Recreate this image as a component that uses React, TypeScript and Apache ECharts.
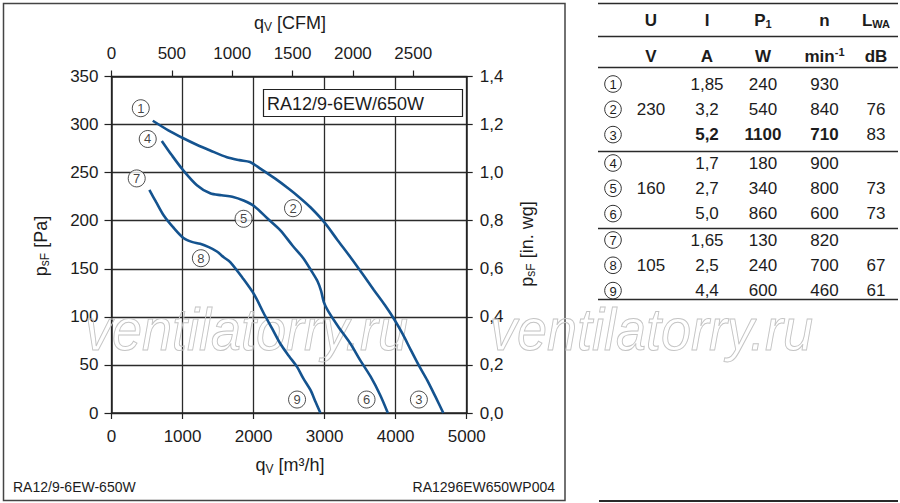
import React, { useEffect, useRef } from "react";
import * as echarts from "echarts";

const FONT = '"Liberation Sans", Arial, Helvetica, sans-serif';
const INK = "#1c1c1c";
const CURVE = "#14538f";

// ---------------- data ----------------
const M3H_PER_CFM = 1.699;
const flowMaxM3h = 5000;
const flowTicksCfm = [0, 500, 1000, 1500, 2000, 2500];
const pressureTicksInWg = [0, 0.2, 0.4, 0.6, 0.8, 1.0, 1.2, 1.4];

// curve 1-2-3 (230 V)
const curve230V: [number, number][] = [
  [581, 304], [800, 294], [1004, 286], [1200, 279], [1389, 273], [1625, 266],
  [1800, 263], [1950, 261], [2100, 254], [2300, 244], [2500, 233], [2650, 224],
  [2800, 214], [3000, 198], [3180, 180], [3364, 162], [3530, 145], [3693, 128],
  [3850, 112], [3975, 98], [4100, 82], [4210, 66], [4330, 49], [4445, 34],
  [4560, 17], [4671, 0],
];
// curve 4-5-6 (160 V)
const curve160V: [number, number][] = [
  [708, 283], [850, 268], [1004, 253], [1202, 237], [1389, 228.5], [1550, 226.5],
  [1700, 225], [1859, 221], [2010, 215], [2200, 202], [2377, 190], [2550, 174],
  [2700, 161], [2820, 147], [2900, 137], [2950, 127], [2990, 115], [3050, 106],
  [3200, 89], [3364, 72], [3500, 55], [3646, 38], [3780, 19], [3890, 0],
];
// curve 7-8-9 (105 V)
const curve105V: [number, number][] = [
  [533, 232], [631, 219], [731, 206], [870, 193], [1013, 182], [1130, 178],
  [1248, 176], [1370, 172.5], [1484, 168], [1580, 162], [1671, 157], [1850, 140],
  [2010, 123], [2141, 104], [2260, 88], [2377, 72], [2500, 59], [2612, 48],
  [2700, 36], [2800, 24], [2870, 12], [2941, 0],
];
const curveMarkNames = ["1", "2", "3", "4", "5", "6", "7", "8", "9"];
const curveMarkPoints: [number, number][] = [
  [412, 317], [2555, 213], [4327, 14],
  [510, 285], [1859, 202], [3590, 14],
  [355, 244], [1258, 161], [2612, 14],
];

const tableRowNames = ["1", "2", "3", "4", "5", "6", "7", "8", "9"];
const tableVoltage = ["", "230", "", "", "160", "", "", "105", ""];
const tableCurrent = ["1,85", "3,2", "5,2", "1,7", "2,7", "5,0", "1,65", "2,5", "4,4"];
const tablePower = ["240", "540", "1100", "180", "340", "860", "130", "240", "600"];
const tableSpeed = ["930", "840", "710", "900", "800", "600", "820", "700", "460"];
const tableLwa = ["", "76", "83", "", "73", "73", "", "67", "61"];
const tableBoldRow = [false, false, true, false, false, false, false, false, false];

const modelName = "RA12/9-6EW/650W";
const footLeft = "RA12/9-6EW-650W";
const footRight = "RA1296EW650WP004";
const watermark = "ventilatorry.ru";

// ---------------- helpers ----------------
const subRich = (size: number, bold = false) => ({
  n: { fontSize: size, fontFamily: FONT, fill: INK, fontWeight: bold ? "bold" : "normal" },
  s: { fontSize: Math.round(size * 0.66), fontFamily: FONT, fill: INK, fontWeight: bold ? "bold" : "normal", padding: [8, 0, 0, 0] },
  p: { fontSize: Math.round(size * 0.66), fontFamily: FONT, fill: INK, fontWeight: bold ? "bold" : "normal", padding: [0, 0, 8, 0] },
});

const txt = (text: string, x: number, y: number, size: number, align = "center", bold = false, extra: any = {}) => ({
  type: "text",
  x,
  y,
  z: 20,
  style: {
    text,
    fontSize: size,
    fontFamily: FONT,
    fontWeight: bold ? "bold" : "normal",
    fill: INK,
    align,
    textAlign: align,
    verticalAlign: "middle",
    textVerticalAlign: "middle",
    ...extra,
  },
});

const richTxt = (text: string, x: number, y: number, size: number, bold = false, rotation = 0, align = "center") => ({
  type: "text",
  x,
  y,
  rotation,
  z: 20,
  style: {
    text,
    rich: subRich(size, bold),
    align,
    textAlign: align,
    verticalAlign: "middle",
    textVerticalAlign: "middle",
  },
});

const hline = (x1: number, x2: number, y: number, w = 1.5) => ({
  type: "line",
  z: 20,
  shape: { x1, y1: y, x2, y2: y },
  style: { stroke: "#2a2a2a", lineWidth: w },
});

const circled = (label: string, cx: number, cy: number) => ({
  type: "group",
  z: 20,
  children: [
    { type: "circle", shape: { cx, cy, r: 8.3 }, style: { fill: "#fff", stroke: "#333", lineWidth: 1 }, z: 20 },
    txt(label, cx, cy + 0.5, 13),
  ],
});

function buildTable(): any[] {
  const els: any[] = [];
  const L = 598, R = 898;
  const cCirc = 613, cU = 651, cI = 707, cP = 763, cN = 824.5, cL = 876;
  [3.5, 36.5, 67.5, 151.5, 228.5, 299.5].forEach((y) => els.push(hline(L, R, y)));
  els.push(hline(599, 898, 501, 2));
  // header
  els.push(txt("U", cU, 20, 17, "center", true));
  els.push(txt("I", cI, 20, 17, "center", true));
  els.push(richTxt("{n|P}{s|1}", cP, 20, 17, true));
  els.push(txt("n", cN, 20, 17, "center", true));
  els.push(richTxt("{n|L}{s|WA}", cL, 20, 17, true));
  els.push(txt("V", cU, 56, 17, "center", true));
  els.push(txt("A", cI, 56, 17, "center", true));
  els.push(txt("W", cP, 56, 17, "center", true));
  els.push(richTxt("{n|min}{p|-1}", cN, 56, 17, true));
  els.push(txt("dB", cL, 56, 17, "center", true));
  const groupTop = [84, 163, 240];
  tableRowNames.forEach((name, i) => {
    const g = Math.floor(i / 3);
    const y = groupTop[g] + (i % 3) * 25.3;
    const b = tableBoldRow[i];
    els.push(circled(name, cCirc, y));
    if (tableVoltage[i]) els.push(txt(tableVoltage[i], cU, y, 17));
    els.push(txt(tableCurrent[i], cI, y, 17, "center", b));
    els.push(txt(tablePower[i], cP, y, 17, "center", b));
    els.push(txt(tableSpeed[i], cN, y, 17, "center", b));
    if (tableLwa[i]) els.push(txt(tableLwa[i], cL, y, 17));
  });
  return els;
}

const wmText = (x: number) => ({
  type: "text",
  x,
  y: 329,
  scaleX: 0.9,
  z: 1,
  silent: true,
  style: {
    text: watermark,
    fontSize: 60,
    fontFamily: FONT,
    fontStyle: "italic",
    fill: "rgba(255,255,255,0)",
    stroke: "#c4c4c4",
    lineWidth: 1,
    align: "left",
    textAlign: "left",
    verticalAlign: "middle",
    textVerticalAlign: "middle",
  },
});

const plain = (v: number) => String(Math.round(v));

export default function App() {
  const ref = useRef<HTMLDivElement>(null);

  useEffect(() => {
    document.body.style.margin = "0";
    const chart = echarts.init(ref.current!, null, { renderer: "svg" });
    const axisLine = { show: true, onZero: false, lineStyle: { color: "#222", width: 1.5 } };
    const tick = (len: number) => ({ show: true, inside: false, length: len, lineStyle: { color: "#222", width: 1.2 } });
    const lab = (margin: number, extra: any = {}) => ({
      fontSize: 17, color: INK, fontFamily: FONT, margin, ...extra,
    });
    const split = { show: true, lineStyle: { color: "#2b2b2b", width: 1.3 } };

    const lineSeries = (data: [number, number][]) => ({
      type: "line",
      data,
      xAxisIndex: 0,
      yAxisIndex: 0,
      showSymbol: false,
      symbol: "none",
      smooth: 0.3,
      silent: true,
      z: 3,
      lineStyle: { color: CURVE, width: 2.6 },
    });

    const option: any = {
      animation: false,
      textStyle: { fontFamily: FONT },
      grid: { left: 111.5, right: 433.3, top: 76.5, bottom: 90, containLabel: false },
      xAxis: [
        {
          type: "value", position: "bottom", min: 0, max: flowMaxM3h, interval: 1000,
          axisLine, axisTick: tick(6), axisLabel: lab(15, { formatter: plain }), splitLine: split,
        },
        {
          type: "value", position: "top", min: 0, max: flowMaxM3h / M3H_PER_CFM, interval: 500,
          axisLine,
          axisTick: { ...tick(6), customValues: flowTicksCfm },
          axisLabel: lab(15, { customValues: flowTicksCfm, formatter: plain }),
          splitLine: { show: false },
        },
      ],
      yAxis: [
        {
          type: "value", position: "left", min: 0, max: 350, interval: 50,
          axisLine, axisTick: tick(7), axisLabel: lab(13, { formatter: plain }), splitLine: split,
        },
        {
          type: "value", position: "right", min: 0, max: 1.4, interval: 0.2,
          axisLine,
          axisTick: { ...tick(6), customValues: pressureTicksInWg },
          axisLabel: lab(13, {
            customValues: pressureTicksInWg,
            formatter: (v: number) => v.toFixed(1).replace(".", ","),
          }),
          splitLine: { show: false },
        },
      ],
      series: [
        lineSeries(curve230V),
        lineSeries(curve160V),
        lineSeries(curve105V),
        {
          type: "scatter",
          data: curveMarkPoints,
          xAxisIndex: 0,
          yAxisIndex: 0,
          symbol: "circle",
          symbolSize: 17,
          silent: true,
          z: 5,
          itemStyle: { color: "#fff", borderColor: "#222", borderWidth: 1 },
          label: {
            show: true,
            position: "inside",
            formatter: (p: any) => curveMarkNames[p.dataIndex],
            fontSize: 13,
            color: "#111",
            fontFamily: FONT,
          },
        },
      ],
      graphic: {
        elements: [
          wmText(85),
          wmText(490),
          {
            type: "rect", z: 0, silent: true,
            shape: { x: 3.5, y: 3.5, width: 561.5, height: 497 },
            style: { fill: "none", stroke: "#444", lineWidth: 1.5 },
          },
          {
            type: "rect", z: 10,
            shape: { x: 263.5, y: 89.5, width: 199, height: 27 },
            style: { fill: "#fff", stroke: "#222", lineWidth: 1.2 },
          },
          txt(modelName, 267, 103.5, 18, "left"),
          richTxt("{n|q}{s|V}{n| [CFM]}", 290, 23, 18),
          richTxt("{n|q}{s|V}{n| [m³/h]}", 290, 465, 18),
          richTxt("{n|p}{s|sF}{n| [Pa]}", 41, 246, 18, false, Math.PI / 2),
          richTxt("{n|p}{s|sF}{n| [in. wg]}", 527, 244, 18, false, Math.PI / 2),
          txt(footLeft, 13, 487, 14, "left"),
          txt(footRight, 555, 487, 14, "right"),
          ...buildTable(),
        ],
      },
    };
    chart.setOption(option);
    return () => chart.dispose();
  }, []);

  return (
    <div
      ref={ref}
      style={{ position: "absolute", left: 0, top: 0, width: 900, height: 503, background: "#fff" }}
    />
  );
}
